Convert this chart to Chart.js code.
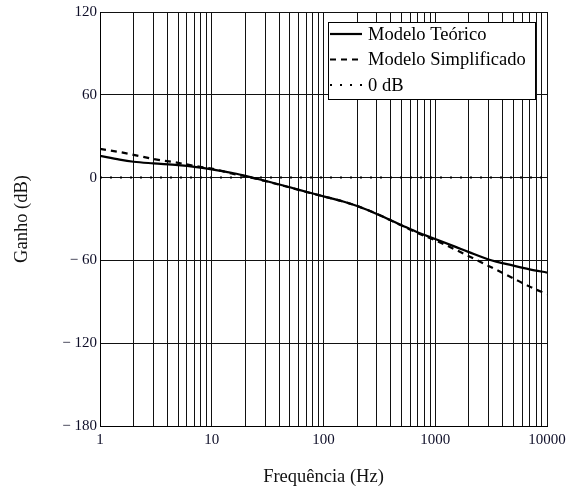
<!DOCTYPE html>
<html>
<head>
<meta charset="utf-8">
<script src="https://cdn.jsdelivr.net/npm/chart.js@4"></script>
<style>
  body { margin: 0; background: #fff; }
  #wrap { width: 579px; height: 493px; }
</style>
</head>
<body>
<div id="wrap"><canvas id="chart"></canvas></div>
<script>
const freqs = [1, 1.5, 2, 3, 5, 7, 10, 15, 20, 30, 50, 70, 100, 150, 200, 300, 500, 700, 1000, 1500, 2000, 3000, 5000, 7000, 10000];
const teorico = [15.8, 13, 11.5, 10.3, 9, 7.8, 6, 3.5, 1.2, -2.3, -7, -10.3, -13.6, -17.3, -20.6, -26.3, -34.5, -39.8, -44.5, -50, -54, -59.3, -63.8, -66.5, -68.8];
const simplificado = [20.8, 18.5, 16.5, 13.5, 10.7, 8.5, 6.5, 3, 1, -2.5, -7.2, -10.4, -13.6, -17.3, -20.6, -26.3, -34.7, -40.3, -45.5, -52, -57, -64, -73, -79, -84.6];
const zeroDb = freqs.map(() => 0);
const yTicks = [-180, -120, -60, 0, 60, 120];
const legendLabels = ["Modelo Teórico", "Modelo Simplificado", "0 dB"];

const pts = arr => arr.map((v, i) => ({ x: freqs[i], y: v }));
const serif = "'Liberation Serif', 'Times New Roman', serif";

// simple boxed legend, like the original plot
const boxLegend = {
  id: "boxLegend",
  afterDraw(chart) {
    const c = chart.ctx;
    const x0 = 328, y0 = 22, w = 207, h = 77;
    c.save();
    c.fillStyle = "#fff";
    c.fillRect(x0, y0, w, h);
    c.strokeStyle = "#000";
    c.lineWidth = 1;
    c.strokeRect(x0 + 0.5, y0 + 0.5, w, h);
    chart.data.datasets.forEach((ds, i) => {
      const y = y0 + 12 + i * 25.5;
      c.beginPath();
      c.setLineDash(ds.borderDash || []);
      c.lineWidth = ds.borderWidth;
      c.moveTo(x0 + 2, y);
      c.lineTo(x0 + 34, y);
      c.stroke();
      c.setLineDash([]);
      c.fillStyle = "#000";
      c.font = "18.5px " + serif;
      c.textBaseline = "middle";
      c.fillText(legendLabels[i], x0 + 40, y + 1);
    });
    c.restore();
  }
};

new Chart(document.getElementById("chart"), {
  type: "line",
  data: {
    datasets: [
      { label: legendLabels[0], data: pts(teorico), borderColor: "#000", borderWidth: 2.2, pointRadius: 0, cubicInterpolationMode: "monotone" },
      { label: legendLabels[1], data: pts(simplificado), borderColor: "#000", borderWidth: 2.2, borderDash: [6, 5], pointRadius: 0, cubicInterpolationMode: "monotone" },
      { label: legendLabels[2], data: pts(zeroDb), borderColor: "#000", borderWidth: 2, borderDash: [2, 8], pointRadius: 0 }
    ]
  },
  options: {
    responsive: true,
    maintainAspectRatio: false,
    animation: false,
    layout: { padding: { left: 0, top: 10, right: 32, bottom: 0 } },
    plugins: { legend: { display: false }, tooltip: { enabled: false } },
    scales: {
      x: {
        type: "logarithmic",
        min: 1,
        max: 10000,
        afterBuildTicks: s => {
          const t = [];
          for (let e = 0; e < 4; e++) for (let m = 1; m < 10; m++) t.push({ value: m * Math.pow(10, e) });
          t.push({ value: 10000 });
          s.ticks = t;
        },
        afterFit: s => { s.height = 67; },
        ticks: {
          autoSkip: false,
          maxRotation: 0,
          padding: 5,
          color: "#0e0e28",
          font: { family: serif, size: 15 },
          callback: v => (Math.log10(v) % 1 === 0 ? String(v) : "")
        },
        grid: { color: "#111", lineWidth: 1, drawTicks: false },
        border: { color: "#000", width: 1 },
        title: { display: true, text: "Frequência (Hz)", color: "#111", font: { family: serif, size: 18.5 }, padding: { top: 0, bottom: 5 } }
      },
      y: {
        min: -180,
        max: 120,
        afterBuildTicks: s => { s.ticks = yTicks.map(v => ({ value: v })); },
        afterFit: s => { s.width = 100; },
        ticks: {
          padding: 3,
          color: "#0e0e28",
          font: { family: serif, size: 15 },
          callback: v => (v < 0 ? "\u2212 " + Math.abs(v) : String(v))
        },
        grid: { color: "#111", lineWidth: 1, drawTicks: false },
        border: { color: "#000", width: 1 },
        title: { display: true, text: "Ganho (dB)", color: "#111", font: { family: serif, size: 18.5 }, padding: { top: 11, bottom: 0 } }
      }
    }
  },
  plugins: [boxLegend]
});
</script>
</body>
</html>
